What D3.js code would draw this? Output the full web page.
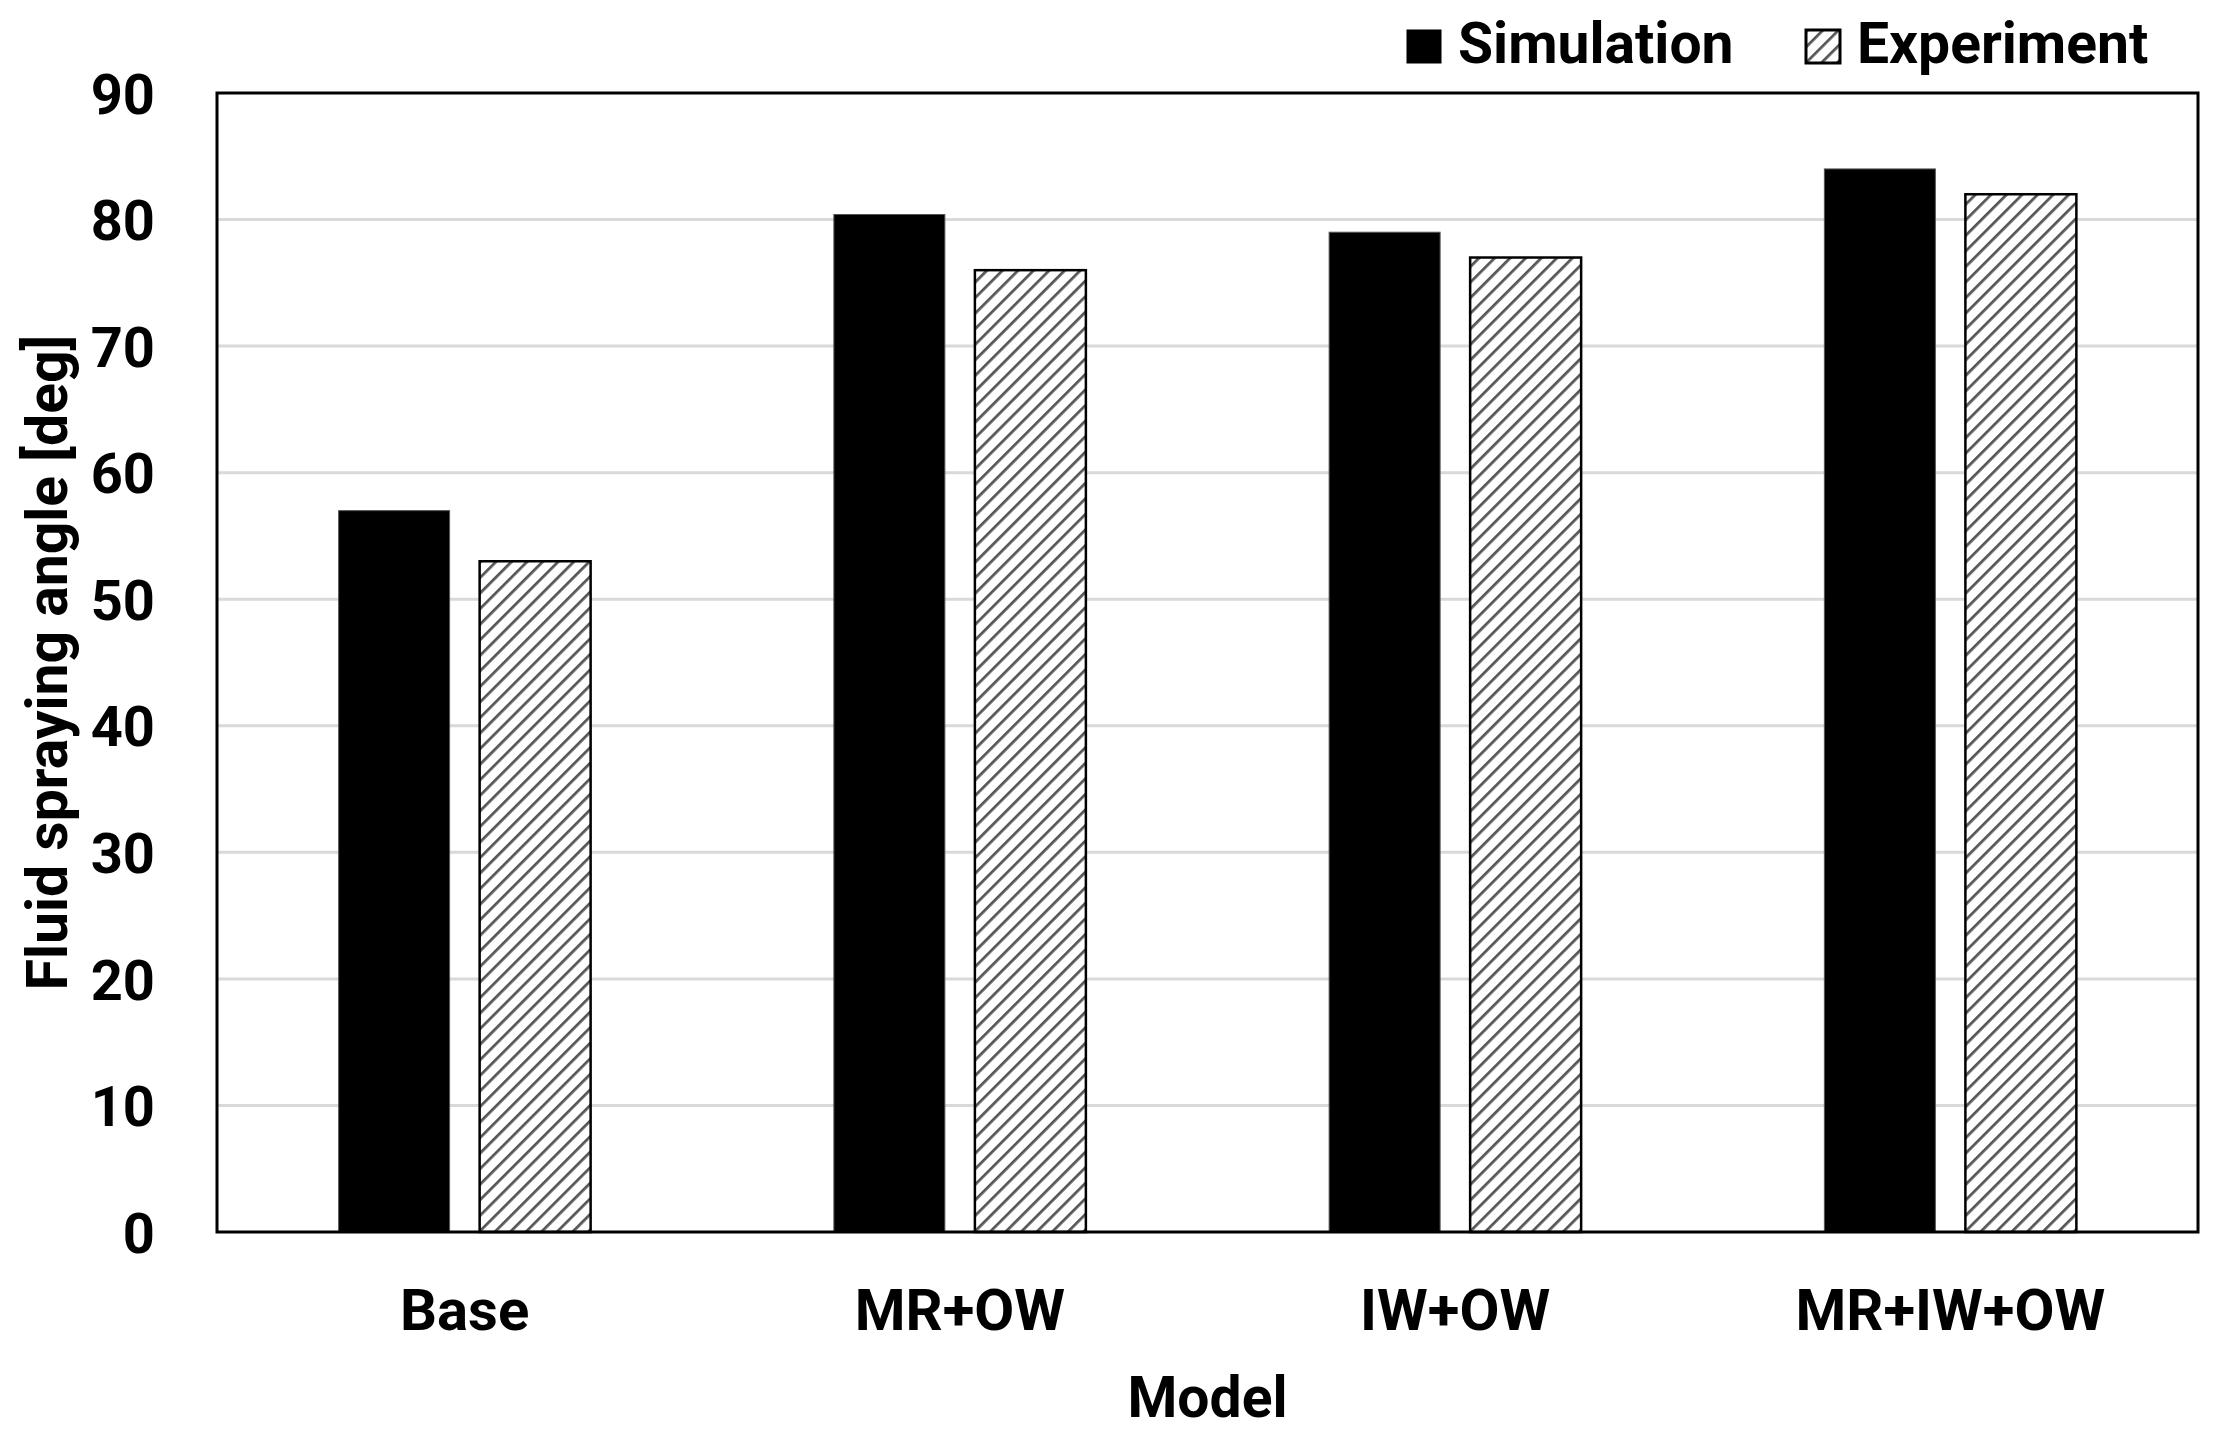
<!DOCTYPE html>
<html>
<head>
<meta charset="utf-8">
<script src="https://cdn.jsdelivr.net/npm/d3@7"></script>
<style>
  body { margin: 0; background: #fff; }
  text { font-family: Roboto, "Liberation Sans", sans-serif; font-weight: 700; fill: #000; }
</style>
</head>
<body>
<div id="chart"></div>
<script>
// chart data
const models = ['Base', 'MR+OW', 'IW+OW', 'MR+IW+OW'];
const series = ['Simulation', 'Experiment'];
const simulation = [57, 80.4, 79, 84];
const experiment = [53, 76, 77, 82];
const yTicks = [0, 10, 20, 30, 40, 50, 60, 70, 80, 90];

const width = 2226, height = 1436;
const margin = {top: 93, right: 28, bottom: 204, left: 217};

const svg = d3.select('#chart')
              .append('svg')
              .attr('width', width)
              .attr('height', height);

// hatch for the experiment bars
const defs = svg.append('defs');
defs.append('pattern')
    .attr('id', 'hatch')
    .attr('patternUnits', 'userSpaceOnUse')
    .attr('width', 11)
    .attr('height', 11)
    .attr('patternTransform', 'rotate(45)')
    .call(p => {
        p.append('rect').attr('width', 11).attr('height', 11).attr('fill', '#fff');
        p.append('line')
         .attr('x1', 0).attr('y1', 0).attr('x2', 0).attr('y2', 11)
         .attr('stroke', '#555')
         .attr('stroke-width', 5.5);
    });

const x = d3.scaleBand()
            .domain(models)
            .range([margin.left, width - margin.right]);

const xInner = d3.scaleBand()
                 .domain(series)
                 .range([-126, 126])
                 .paddingInner(0.213);

const y = d3.scaleLinear()
            .domain([0, 90])
            .range([height - margin.bottom, margin.top]);

// grid lines
svg.append('g')
   .selectAll('line')
   .data(yTicks.filter(d => d > 0 && d < 90))
   .enter().append('line')
   .attr('x1', margin.left)
   .attr('x2', width - margin.right)
   .attr('y1', d => y(d))
   .attr('y2', d => y(d))
   .attr('stroke', '#d9d9d9')
   .attr('stroke-width', 3);

// bars
const rows = models.map((m, i) => ({model: m, Simulation: simulation[i], Experiment: experiment[i]}));

const groups = svg.append('g')
                  .selectAll('g')
                  .data(rows)
                  .enter().append('g')
                  .attr('transform', d => `translate(${x(d.model) + x.bandwidth() / 2},0)`);

groups.selectAll('rect')
      .data(d => series.map(s => ({key: s, value: d[s]})))
      .enter().append('rect')
      .attr('x', d => xInner(d.key))
      .attr('width', xInner.bandwidth())
      .attr('y', d => y(d.value))
      .attr('height', d => y(0) - y(d.value))
      .attr('fill', d => d.key === 'Simulation' ? '#000' : 'url(#hatch)')
      .attr('stroke', d => d.key === 'Simulation' ? '#555' : '#000')
      .attr('stroke-width', d => d.key === 'Simulation' ? 1 : 2.5);

// frame
svg.append('rect')
   .attr('x', margin.left)
   .attr('y', margin.top)
   .attr('width', width - margin.right - margin.left)
   .attr('height', y(0) - margin.top)
   .attr('fill', 'none')
   .attr('stroke', '#000')
   .attr('stroke-width', 3);

// y axis labels
const yAxis = d3.axisLeft(y).tickValues(yTicks).tickSize(0).tickPadding(62);
svg.append('g')
   .attr('transform', `translate(${margin.left},0)`)
   .call(yAxis)
   .call(g => g.select('.domain').remove())
   .selectAll('text')
   .attr('font-size', 56)
   .attr('dy', '0.36em');

// x axis labels
const xAxis = d3.axisBottom(x).tickSize(0).tickPadding(56);
svg.append('g')
   .attr('transform', `translate(0,${y(0)})`)
   .call(xAxis)
   .call(g => g.select('.domain').remove())
   .selectAll('text')
   .attr('font-size', 58)
   .attr('dy', 0)
   .attr('y', 98);

svg.selectAll('.tick text').attr('fill', '#000').style('font-family', 'Roboto').style('font-weight', 700);

// axis titles
svg.append('text')
   .attr('x', (margin.left + width - margin.right) / 2)
   .attr('y', 1417)
   .attr('text-anchor', 'middle')
   .attr('font-size', 57)
   .text('Model');

svg.append('text')
   .attr('transform', `translate(67,${(margin.top + y(0)) / 2}) rotate(-90)`)
   .attr('text-anchor', 'middle')
   .attr('font-size', 57)
   .text('Fluid spraying angle [deg]');

// legend
const legend = svg.append('g');
const legendItems = [
    {key: 'Simulation', x: 1407},
    {key: 'Experiment', x: 1806}
];
legendItems.forEach(item => {
    legend.append('rect')
          .attr('x', item.x)
          .attr('y', 30)
          .attr('width', 34)
          .attr('height', 33)
          .attr('fill', item.key === 'Simulation' ? '#000' : 'url(#hatch)')
          .attr('stroke', '#000')
          .attr('stroke-width', item.key === 'Simulation' ? 1 : 3);
    legend.append('text')
          .attr('x', item.x + 51)
          .attr('y', 63)
          .attr('font-size', 57)
          .text(item.key);
});
</script>
</body>
</html>
